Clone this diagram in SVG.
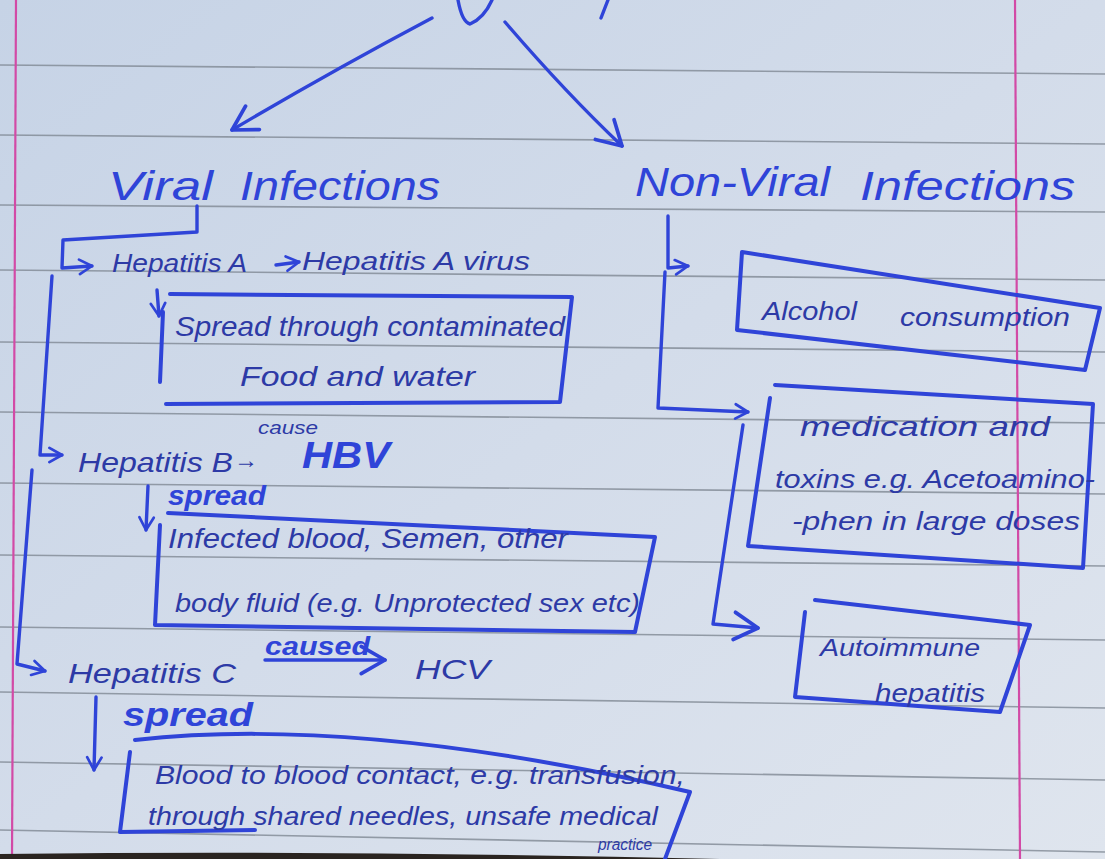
<svg xmlns="http://www.w3.org/2000/svg" width="1105" height="859" viewBox="0 0 1105 859">
<defs>
<linearGradient id="paper" x1="0" y1="0" x2="1" y2="1">
<stop offset="0" stop-color="#c6d3e6"/>
<stop offset="0.5" stop-color="#d3dcea"/>
<stop offset="1" stop-color="#dfe5ee"/>
</linearGradient>
<marker id="hs" viewBox="0 0 20 20" refX="17" refY="10" markerWidth="18" markerHeight="18" markerUnits="userSpaceOnUse" orient="auto">
<path d="M3,2 L17,10 L3,18" fill="none" stroke="#2f44d8" stroke-width="3" stroke-linecap="round" stroke-linejoin="round"/>
</marker>
<marker id="hb" viewBox="0 0 20 20" refX="17" refY="10" markerWidth="34" markerHeight="34" markerUnits="userSpaceOnUse" orient="auto">
<path d="M3,2 L17,10 L3,18" fill="none" stroke="#2f44d8" stroke-width="2.2" stroke-linecap="round" stroke-linejoin="round"/>
</marker>
<style>
.rule{stroke:#7f8894;stroke-width:1.6;fill:none;opacity:0.8}
.margin{stroke:#d24aa6;stroke-width:2.2;fill:none}
.ink{stroke:#2f44d8;stroke-width:3.4;fill:none;stroke-linecap:round;stroke-linejoin:round}
.box{stroke:#2f44d8;stroke-width:4;fill:none;stroke-linecap:round;stroke-linejoin:round}
.t{font-family:"Liberation Sans",Arial,sans-serif;font-style:italic;fill:#2d3aa6}
.h{font-family:"Liberation Sans",Arial,sans-serif;font-style:italic;fill:#2f44d8;font-size:40px}
.b{font-family:"Liberation Sans",Arial,sans-serif;font-style:italic;font-weight:bold;fill:#2f44d8}
</style>
</defs>
<rect width="1105" height="859" fill="url(#paper)"/>
<g id="paper-lines">
<path class="rule" d="M0,65 L1105,74"/>
<path class="rule" d="M0,135 L1105,144"/>
<path class="rule" d="M0,205 L1105,212"/>
<path class="rule" d="M0,270 L1105,280"/>
<path class="rule" d="M0,342 L1105,352"/>
<path class="rule" d="M0,412 L1105,423"/>
<path class="rule" d="M0,483 L1105,494"/>
<path class="rule" d="M0,555 L1105,566"/>
<path class="rule" d="M0,627 L1105,640"/>
<path class="rule" d="M0,692 L1105,708"/>
<path class="rule" d="M0,762 L1105,780"/>
<path class="rule" d="M0,830 L1105,852"/>
<path class="margin" d="M16,0 L12,859"/>
<path class="margin" d="M1015,0 L1020,859"/>
<path d="M0,854 Q 350,850 720,859 L0,859 Z" fill="#2a2420"/>
</g>
<g id="title-partial">
<path class="ink" d="M458,0 Q 462,22 470,24 Q 484,18 492,0"/>
<path class="ink" d="M608,0 L601,18"/>
</g>
<g id="connectors">
<path class="ink" d="M432,18 Q 330,72 232,130" marker-end="url(#hb)"/>
<path class="ink" d="M505,22 Q 565,92 622,146" marker-end="url(#hb)"/>
<path class="ink" d="M197,206 L197,232 L63,240 L62,268 L92,266" marker-end="url(#hs)"/>
<path class="ink" d="M52,276 L40,455 L62,455" marker-end="url(#hs)"/>
<path class="ink" d="M32,470 L17,664 L45,671" marker-end="url(#hs)"/>
<path class="ink" d="M276,265 L299,262" marker-end="url(#hs)"/>
<path class="ink" d="M157,290 L159,316" marker-end="url(#hs)"/>
<path class="ink" d="M148,486 L146,530" marker-end="url(#hs)"/>
<path class="ink" d="M265,660 L385,660" marker-end="url(#hb)"/>
<path class="ink" d="M96,697 L94,770" marker-end="url(#hs)"/>
<path class="ink" d="M668,216 L668,268 L688,266" marker-end="url(#hs)"/>
<path class="ink" d="M665,272 L658,408 L748,412" marker-end="url(#hs)"/>
<path class="ink" d="M743,425 L713,624 L758,628" marker-end="url(#hb)"/>
</g>
<g id="viral-infections">
<text class="h" x="108" y="200" textLength="105" lengthAdjust="spacingAndGlyphs">Viral</text>
<text class="h" x="240" y="200" textLength="200" lengthAdjust="spacingAndGlyphs">Infections</text>
</g>
<g id="non-viral-infections">
<text class="h" x="635" y="196" textLength="195" lengthAdjust="spacingAndGlyphs">Non-Viral</text>
<text class="h" x="860" y="200" textLength="215" lengthAdjust="spacingAndGlyphs">Infections</text>
</g>
<g id="hepatitis-a">
<text class="t" x="112" y="272" font-size="26" textLength="135" lengthAdjust="spacingAndGlyphs">Hepatitis A</text>
<text class="t" x="302" y="270" font-size="26" textLength="228" lengthAdjust="spacingAndGlyphs">Hepatitis A virus</text>
</g>
<g id="hep-a-spread">
<path class="box" d="M170,294 L572,297 L560,402 L166,404 M163,312 L160,382"/>
<text class="t" x="175" y="336" font-size="28" textLength="390" lengthAdjust="spacingAndGlyphs">Spread through contaminated</text>
<text class="t" x="240" y="386" font-size="28" textLength="235" lengthAdjust="spacingAndGlyphs">Food and water</text>
</g>
<g id="hepatitis-b">
<text class="t" x="78" y="472" font-size="28" textLength="155" lengthAdjust="spacingAndGlyphs">Hepatitis B</text>
<text class="t" x="234" y="468" font-size="24">→</text>
<text class="t" x="258" y="434" font-size="18" textLength="60" lengthAdjust="spacingAndGlyphs">cause</text>
<text class="b" x="302" y="468" font-size="36" textLength="88" lengthAdjust="spacingAndGlyphs" font-style="normal">HBV</text>
<text class="b" x="168" y="505" font-size="28" textLength="98" lengthAdjust="spacingAndGlyphs">spread</text>
</g>
<g id="hep-b-spread">
<path class="box" d="M168,513 L655,537 L635,632 L155,625 L160,525"/>
<text class="t" x="168" y="548" font-size="28" textLength="400" lengthAdjust="spacingAndGlyphs">Infected blood, Semen, other</text>
<text class="t" x="175" y="612" font-size="26" textLength="465" lengthAdjust="spacingAndGlyphs">body fluid (e.g. Unprotected sex etc)</text>
</g>
<g id="hepatitis-c">
<text class="t" x="68" y="683" font-size="28" textLength="168" lengthAdjust="spacingAndGlyphs">Hepatitis C</text>
<text class="b" x="265" y="655" font-size="26" textLength="105" lengthAdjust="spacingAndGlyphs">caused</text>
<text class="t" x="415" y="679" font-size="28" textLength="75" lengthAdjust="spacingAndGlyphs">HCV</text>
<text class="b" x="123" y="726" font-size="34" textLength="130" lengthAdjust="spacingAndGlyphs">spread</text>
</g>
<g id="hep-c-spread">
<path class="box" d="M135,740 Q 360,715 690,792 L665,859 M130,752 L120,832 L255,830"/>
<text class="t" x="155" y="784" font-size="26" textLength="530" lengthAdjust="spacingAndGlyphs">Blood to blood contact, e.g. transfusion,</text>
<text class="t" x="148" y="825" font-size="25" textLength="510" lengthAdjust="spacingAndGlyphs">through shared needles, unsafe medical</text>
<text class="t" x="598" y="850" font-size="16" textLength="54" lengthAdjust="spacingAndGlyphs">practice</text>
</g>
<g id="alcohol">
<path class="box" d="M742,252 L1100,308 L1085,370 L737,330 Z"/>
<text class="t" x="762" y="320" font-size="26" textLength="95" lengthAdjust="spacingAndGlyphs">Alcohol</text>
<text class="t" x="900" y="326" font-size="26" textLength="170" lengthAdjust="spacingAndGlyphs">consumption</text>
</g>
<g id="medication">
<path class="box" d="M775,385 L1093,404 L1083,568 L748,546 L770,398"/>
<text class="t" x="800" y="436" font-size="28" textLength="250" lengthAdjust="spacingAndGlyphs">medication and</text>
<text class="t" x="775" y="488" font-size="26" textLength="320" lengthAdjust="spacingAndGlyphs">toxins e.g. Acetoamino-</text>
<text class="t" x="792" y="530" font-size="26" textLength="288" lengthAdjust="spacingAndGlyphs">-phen in large doses</text>
</g>
<g id="autoimmune">
<path class="box" d="M815,600 L1030,625 L1000,712 L795,697 L805,612"/>
<text class="t" x="820" y="656" font-size="24" textLength="160" lengthAdjust="spacingAndGlyphs">Autoimmune</text>
<text class="t" x="875" y="702" font-size="26" textLength="110" lengthAdjust="spacingAndGlyphs">hepatitis</text>
</g>
</svg>
